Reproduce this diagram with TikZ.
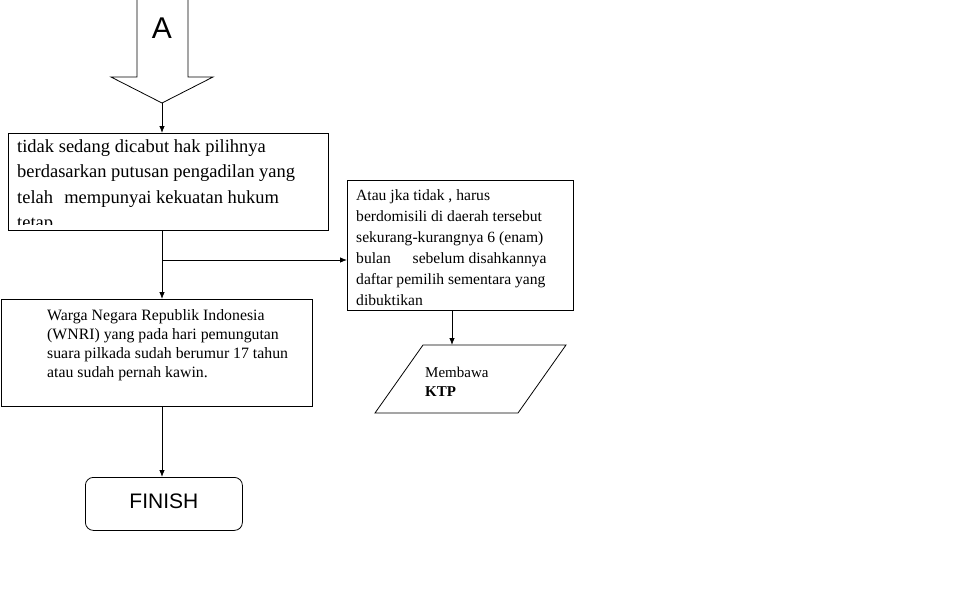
\documentclass[tikz,border=0pt]{standalone}
\usepackage{fontspec}
\setmainfont{Liberation Serif}
\newfontfamily\arialf{Liberation Sans}
\usetikzlibrary{arrows.meta}
\begin{document}
\begin{tikzpicture}[x=1pt,y=-1pt,
  box/.style={draw,line width=0.8pt,inner sep=0pt,anchor=north west,rectangle},
  conn/.style={line width=0.8pt,-{Latex[length=7pt,width=5.5pt]}},
  txt/.style={inner sep=0pt,anchor=north west,align=left}]
\useasboundingbox[fill=white] (0,0) rectangle (962,611);
% block arrow A
\coordinate (tipA) at (162,103);
\draw[line width=0.8pt] (137,0) -- (137,77) -- (111,77) -- (tipA) -- (213,77) -- (188,77) -- (188,0);
\node[inner sep=0pt,font=\arialf\fontsize{30}{34}\selectfont] (lblA) at (162,28) {A};
% box 1
\node[box,minimum width=320pt,minimum height=97pt] (b1) at (8,133) {};
\begin{scope}
\clip (9,134) rectangle (327,224);
\node[txt,font=\fontsize{18.5}{25.5}\selectfont] (t1) at (17,139.3)
 {tidak sedang dicabut hak pilihnya\\berdasarkan putusan pengadilan yang\\telah\hspace{0.6em}mempunyai kekuatan hukum\\tetap};
\end{scope}
% box 2
\node[box,minimum width=226pt,minimum height=130pt] (b2) at (347,180) {};
\node[txt,font=\fontsize{15.6}{21}\selectfont] (t2) at (356,189.5)
 {Atau jka tidak , harus\\berdomisili di daerah tersebut\\sekurang-kurangnya 6 (enam)\\bulan\hspace{1.4em}sebelum disahkannya\\daftar pemilih sementara yang\\dibuktikan};
% box 3
\node[box,minimum width=311pt,minimum height=107pt] (b3) at (1,299) {};
\node[txt,font=\fontsize{15.8}{19}\selectfont] (t3) at (47,309)
 {Warga Negara Republik Indonesia\\(WNRI) yang pada hari pemungutan\\suara pilkada sudah berumur 17 tahun\\atau sudah pernah kawin.};
% parallelogram
\coordinate (pA) at (423,345);
\coordinate (pB) at (566,345);
\coordinate (pC) at (518,413);
\coordinate (pD) at (375,413);
\coordinate (ptop) at (452,345);
\draw[line width=0.8pt] (pA) -- (pB) -- (pC) -- (pD) -- cycle;
\node[inner sep=0pt,anchor=base west,font=\fontsize{15}{18}\selectfont] (m1) at (425,377) {Membawa};
\node[inner sep=0pt,anchor=base west,font=\bfseries\fontsize{15}{18}\selectfont] (m2) at (425,396) {KTP};
% finish
\node[box,rounded corners=8pt,minimum width=157pt,minimum height=53pt] (fin) at (85,477) {};
\node[inner sep=0pt,font=\arialf\fontsize{21}{24}\selectfont] (tf) at ([yshift=3pt]fin.center) {FINISH};
% connectors
\draw[conn] (tipA) -- (tipA |- b1.north);
\draw[conn] (tipA |- b1.south) -- (tipA |- b3.north);
\coordinate (br) at (162,260);
\draw[conn] (br) -- (br -| b2.west);
\draw[conn] (b2.south -| ptop) -- (ptop);
\draw[conn] (tipA |- b3.south) -- (tipA |- fin.north);
\end{tikzpicture}
\end{document}
